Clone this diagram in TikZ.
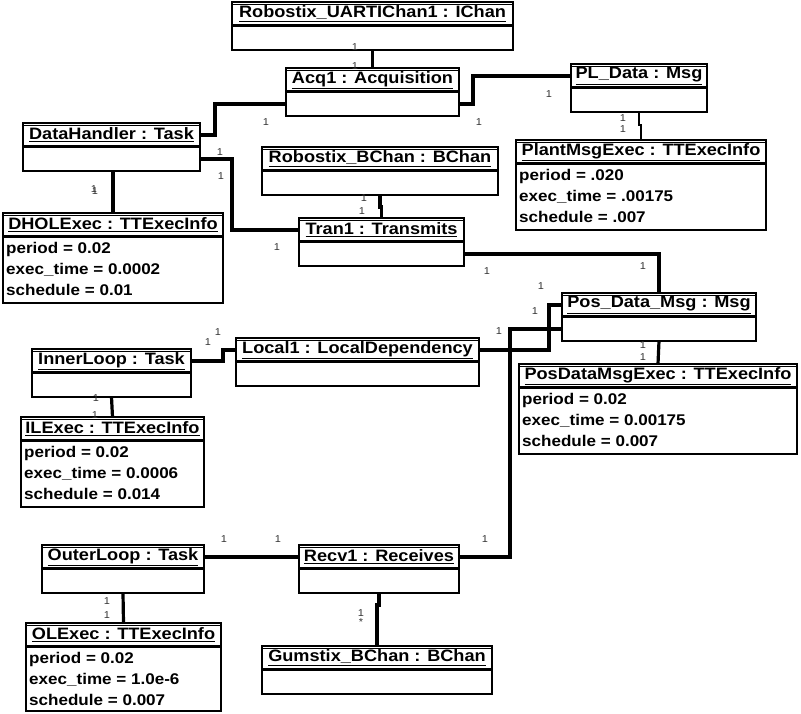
\documentclass[tikz,border=0pt]{standalone}
\usepackage{fontspec}
\setmainfont{Liberation Sans}[FakeStretch=1.1]
\usetikzlibrary{positioning}
\newcommand\headfont{\fontsize{16.5}{18}\selectfont\bfseries}
\newcommand\attrfont{\fontsize{15.5}{21}\selectfont\bfseries}
\newcommand\multfont{\fontsize{10}{11}\selectfont}
\tikzset{%
   objhead/.style={
      draw,
      anchor=north west,
      inner sep=0pt,
      outer sep=0pt,
      line width=1.3pt,
      minimum width=#1pt,
      minimum height=24pt,
      font=\headfont,
      path picture={
        \draw[line width=.6pt] ([yshift=-2.2pt]path picture bounding box.north west) -- ([yshift=-2.2pt]path picture bounding box.north east);
        \draw[line width=.6pt] ([yshift=2.2pt]path picture bounding box.south west) -- ([yshift=2.2pt]path picture bounding box.south east);
      }
   },
   objbody/.style={
      draw,
      inner sep=0pt,
      outer sep=0pt,
      line width=1.3pt,
      minimum width=#1pt,
      minimum height=24pt
   },
   attrs/.style={
      anchor=north west,
      inner sep=0pt,
      align=left,
      font=\attrfont
   },
   assoc/.style={
      line width=3.2pt
   },
   thinassoc/.style={
      line width=1.2pt
   },
   mult/.style={
      inner sep=0pt,
      font=\multfont,
      text=black!80
   },
}
\begin{document}
\begin{tikzpicture}[x=1pt, y=-1pt]
   \useasboundingbox (0,0) rectangle (801,713);
   % objects
   \node[objhead=281] (uart) at (232,2) {\underline{Robostix\_UARTIChan1 : IChan}};
   \node[objbody=281, below=0pt of uart] (uartb) {};
   \node[objhead=173] (acq) at (286,68) {\underline{Acq1 : Acquisition}};
   \node[objbody=173, below=0pt of acq] (acqb) {};
   \node[objhead=136] (pl) at (571,64) {\underline{PL\_Data : Msg}};
   \node[objbody=136, below=0pt of pl] (plb) {};
   \node[objhead=250] (plant) at (516,140) {\underline{PlantMsgExec : TTExecInfo}};
   \node[objbody=250, minimum height=66pt, below=0pt of plant] (plantb) {};
   \node[attrs, below right=5pt and 3pt of plantb.north west] (planta) {period = .020\\exec\_time = .00175\\schedule = .007};
   \node[objhead=177] (dh) at (23,123) {\underline{DataHandler : Task}};
   \node[objbody=177, below=0pt of dh] (dhb) {};
   \node[objhead=220] (dhol) at (3,213) {\underline{DHOLExec : TTExecInfo}};
   \node[objbody=220, minimum height=66pt, below=0pt of dhol] (dholb) {};
   \node[attrs, below right=5pt and 3pt of dholb.north west] (dhola) {period = 0.02\\exec\_time = 0.0002\\schedule = 0.01};
   \node[objhead=236] (bchan) at (262,147) {\underline{Robostix\_BChan : BChan}};
   \node[objbody=236, below=0pt of bchan] (bchanb) {};
   \node[objhead=165] (tran) at (299,218) {\underline{Tran1 : Transmits}};
   \node[objbody=165, below=0pt of tran] (tranb) {};
   \node[objhead=194] (pos) at (562,293) {\underline{Pos\_Data\_Msg : Msg}};
   \node[objbody=194, below=0pt of pos] (posb) {};
   \node[objhead=278] (posx) at (519,364) {\underline{PosDataMsgExec : TTExecInfo}};
   \node[objbody=278, minimum height=66pt, below=0pt of posx] (posxb) {};
   \node[attrs, below right=5pt and 3pt of posxb.north west] (posxa) {period = 0.02\\exec\_time = 0.00175\\schedule = 0.007};
   \node[objhead=243] (local) at (236,338) {\underline{Local1 : LocalDependency}};
   \node[objbody=243, below=0pt of local] (localb) {};
   \node[objhead=159] (inner) at (32,349) {\underline{InnerLoop : Task}};
   \node[objbody=159, below=0pt of inner] (innerb) {};
   \node[objhead=183] (ilx) at (21,417) {\underline{ILExec : TTExecInfo}};
   \node[objbody=183, minimum height=66pt, below=0pt of ilx] (ilxb) {};
   \node[attrs, below right=5pt and 3pt of ilxb.north west] (ilxa) {period = 0.02\\exec\_time = 0.0006\\schedule = 0.014};
   \node[objhead=162] (outer) at (42,545) {\underline{OuterLoop : Task}};
   \node[objbody=162, below=0pt of outer] (outerb) {};
   \node[objhead=195] (olx) at (26,623) {\underline{OLExec : TTExecInfo}};
   \node[objbody=195, minimum height=64pt, below=0pt of olx] (olxb) {};
   \node[attrs, below right=5pt and 3pt of olxb.north west] (olxa) {period = 0.02\\exec\_time = 1.0e-6\\schedule = 0.007};
   \node[objhead=160] (recv) at (299,545) {\underline{Recv1 : Receives}};
   \node[objbody=160, below=0pt of recv] (recvb) {};
   \node[objhead=230] (gum) at (262,646) {\underline{Gumstix\_BChan : BChan}};
   \node[objbody=230, below=0pt of gum] (gumb) {};
   % links
   \draw[assoc] (uartb.south) -- (acq.north);
   \draw[assoc] (acqb.east) -- ++(14,0) |- (pl.west);
   \draw[thinassoc] (plb.south) -- ++(0,13) -| (plant.north);
   \draw[assoc] (acqb.west) -- ++(-71,0) |- (dh.east);
   \draw[assoc] (dhb.east) -- ++(32,0) |- (tran.west);
   \draw[assoc] (dhb.south -| dhol.north) -- (dhol.north);
   \draw[assoc] (bchanb.south) -- ++(0,12) -| (tran.north);
   \draw[assoc] (tranb.east) -| (pos.north);
   \draw[assoc] (posb.south) -- (posx.north);
   \draw[assoc] (local.east) -- ++(70,0) |- (pos.west);
   \draw[assoc] (recv.east) -- ++(51,0) |- (posb.west);
   \draw[assoc] (inner.east) -- ++(32,0) |- (local.west);
   \draw[assoc] (innerb.south) -- (ilx.north);
   \draw[assoc] (outer.east) -- (recv.west);
   \draw[assoc] (outerb.south) -- (olx.north);
   \draw[assoc] (recvb.south) -- ++(0,12) -| (gum.north);
   \fill (510,350) circle (2.8pt);
   \fill (549,329) circle (2.8pt);
   % multiplicities
   \node[mult] (m1) at (355,47) {1};
   \node[mult] (m2) at (355,66) {1};
   \node[mult] (m3) at (549,94) {1};
   \node[mult] (m4) at (479,122) {1};
   \node[mult] (m5) at (623,118) {1};
   \node[mult] (m6) at (623,129) {1};
   \node[mult] (m7) at (266,122) {1};
   \node[mult] (m8) at (220,152) {1};
   \node[mult] (m9) at (221,176) {1};
   \node[mult] (m10) at (277,247) {1};
   \node[mult] (m11) at (94,189) {1};
   \node[mult] (m12) at (95,191) {1};
   \node[mult] (m13) at (364,198) {1};
   \node[mult] (m14) at (362,211) {1};
   \node[mult] (m15) at (487,271) {1};
   \node[mult] (m16) at (643,266) {1};
   \node[mult] (m17) at (643,345) {1};
   \node[mult] (m18) at (643,357) {1};
   \node[mult] (m19) at (541,286) {1};
   \node[mult] (m20) at (535,311) {1};
   \node[mult] (m21) at (499,331) {1};
   \node[mult] (m22) at (208,342) {1};
   \node[mult] (m23) at (218,332) {1};
   \node[mult] (m24) at (96,398) {1};
   \node[mult] (m25) at (95,415) {1};
   \node[mult] (m26) at (224,539) {1};
   \node[mult] (m27) at (278,539) {1};
   \node[mult] (m28) at (485,539) {1};
   \node[mult] (m29) at (107,601) {1};
   \node[mult] (m30) at (107,615) {1};
   \node[mult] (m31) at (361,613) {1};
   \node[mult] (m32) at (361,622) {*};
\end{tikzpicture}
\end{document}
